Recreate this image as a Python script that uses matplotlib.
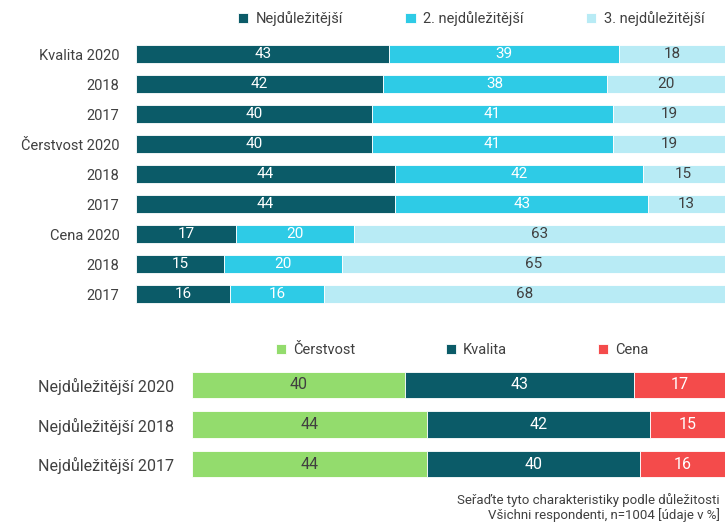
import matplotlib
matplotlib.use("Agg")
import matplotlib.pyplot as plt
import numpy as np

plt.rcParams['font.family'] = ['Roboto', 'DejaVu Sans']

# ---- Top panel data ----
top_labels = ["Kvalita 2020", "2018", "2017", "Čerstvost 2020", "2018", "2017",
              "Cena 2020", "2018", "2017"]
top_series = ["Nejdůležitější", "2. nejdůležitější", "3. nejdůležitější"]
first = [43, 42, 40, 40, 44, 44, 17, 15, 16]
second = [39, 38, 41, 41, 42, 43, 20, 20, 16]
third = [18, 20, 19, 19, 15, 13, 63, 65, 68]
top_colors = ["#0b5b68", "#2ecbe6", "#b8ebf5"]
top_text_colors = ["white", "white", "#404040"]

# ---- Bottom panel data ----
bot_labels = ["Nejdůležitější 2020", "Nejdůležitější 2018", "Nejdůležitější 2017"]
bot_series = ["Čerstvost", "Kvalita", "Cena"]
cerstvost = [40, 44, 44]
kvalita = [43, 42, 40]
cena = [17, 15, 16]
bot_colors = ["#93dc6d", "#0b5b68", "#f44b4b"]
bot_text_colors = ["#404040", "white", "white"]

footnote = ["Seřaďte tyto charakteristiky podle důležitosti",
            "Všichni respondenti, n=1004 [údaje v %]"]

fig = plt.figure(figsize=(7.25, 5.23), dpi=100)

def stacked(ax, labels, series_vals, names, colors, tcolors, height, fs):
    y = np.arange(len(labels))
    left = np.zeros(len(labels))
    for vals, name, c, tc in zip(series_vals, names, colors, tcolors):
        bars = ax.barh(y, vals, left=left, height=height, color=c,
                       edgecolor="white", linewidth=0.6, label=name)
        ax.bar_label(bars, labels=[str(v) for v in vals], label_type="center",
                     color=tc, fontsize=fs)
        left = left + np.array(vals)
    ax.set_xlim(0, 100)
    ax.set_ylim(len(labels) - 0.5, -0.5)
    ax.set_yticks(y)
    ax.set_yticklabels(labels)
    ax.set_xticks([])
    for s in ax.spines.values():
        s.set_visible(False)

ax1 = fig.add_axes([136/725, 1 - 309/523, 589/725, 270/523])
stacked(ax1, top_labels, [first, second, third], top_series, top_colors,
        top_text_colors, 0.6, 11)
ax1.tick_params(axis="y", length=0, pad=12, labelsize=10.5, labelcolor="#404040")
ax1.legend(loc="center", bbox_to_anchor=(471/725, 1 - 19/523),
           bbox_transform=fig.transFigure, ncol=3, frameon=False,
           handlelength=0.7, handleheight=0.7, handletextpad=0.5,
           columnspacing=4.3, fontsize=10.5, labelcolor="#404040")

ax2 = fig.add_axes([192/725, 1 - 484/523, 533/725, 119/523])
stacked(ax2, bot_labels, [cerstvost, kvalita, cena], bot_series, bot_colors,
        bot_text_colors, 0.66, 11.5)
ax2.tick_params(axis="y", length=0, pad=13, labelsize=11.5, labelcolor="#404040")
ax2.legend(loc="center", bbox_to_anchor=(462/725, 1 - 350/523),
           bbox_transform=fig.transFigure, ncol=3, frameon=False,
           handlelength=0.7, handleheight=0.7, handletextpad=0.5,
           columnspacing=6.2, fontsize=10.5, labelcolor="#404040")

fig.text(720/725, 1 - 500/523, footnote[0], ha="right", va="center",
         fontsize=9.5, color="#404040")
fig.text(720/725, 1 - 515/523, footnote[1], ha="right", va="center",
         fontsize=9.5, color="#404040")

fig.savefig("out.png", dpi=100)
